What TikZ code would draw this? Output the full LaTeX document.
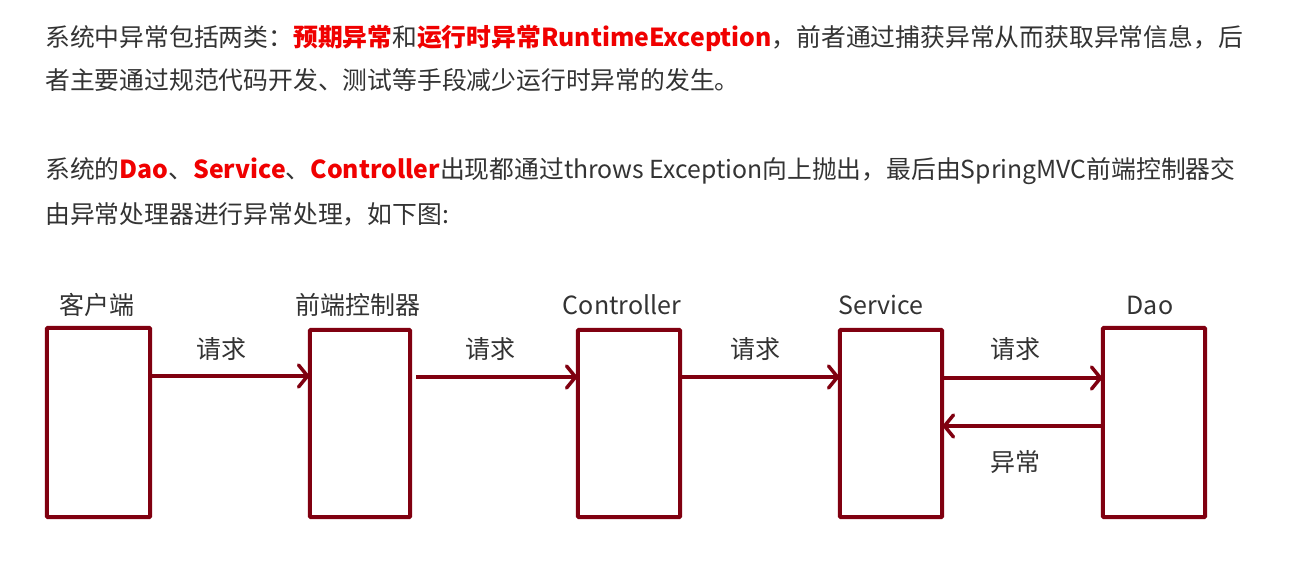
\documentclass[tikz,border=0pt]{standalone}
\usepackage{fontspec}
\setmainfont{Noto Sans CJK SC}
\usetikzlibrary{arrows.meta}
\definecolor{boxred}{RGB}{128,0,16}
\definecolor{txtgray}{RGB}{51,51,51}
\definecolor{hlred}{RGB}{240,0,0}
\begin{document}
\begin{tikzpicture}[x=1pt,y=-1pt,
  para/.style={anchor=west,inner sep=0pt,text=txtgray,font=\fontsize{24.8}{30}\selectfont},
  blk/.style={draw=boxred,line width=4pt,rounded corners=1pt},
  lbl/.style={inner sep=0pt,text=txtgray,font=\fontsize{25}{30}\selectfont},
  conn/.style={draw=boxred,line width=3.5pt,-{Straight Barb[length=9pt,width=22pt,line width=3.5pt,line cap=round]}}]
\useasboundingbox (0,0) rectangle (1299,581);
\fill[white] (0,0) rectangle (1299,581);
\newcommand{\hl}[1]{\textcolor{hlred}{\bfseries #1}}
% paragraphs
\node[para] (p1) at (45,38) {系统中异常包括两类：\hl{预期异常}和\hl{运行时异常RuntimeException}，前者通过捕获异常从而获取异常信息，后};
\node[para] (p2) at (45,80) {者主要通过规范代码开发、测试等手段减少运行时异常的发生。};
\node[para] (p3) at (45,171) {系统的\hl{Dao}、\hl{Service}、\hl{Controller}出现都通过throws Exception向上抛出，最后由SpringMVC前端控制器交};
\node[para] (p4) at (45,214) {由异常处理器进行异常处理，如下图:};
% boxes
\node[inner sep=0pt,minimum width=103pt,minimum height=189pt] (client) at (98.5,422.5) {};
\node[inner sep=0pt,minimum width=100pt,minimum height=187pt] (front) at (360,423.5) {};
\node[inner sep=0pt,minimum width=102pt,minimum height=187pt] (ctrl) at (629,423.5) {};
\node[inner sep=0pt,minimum width=102pt,minimum height=187pt] (svc) at (891,423.5) {};
\node[inner sep=0pt,minimum width=102pt,minimum height=189pt] (dao) at (1154,422.5) {};
\draw[blk] (client.north west) rectangle (client.south east);
\draw[blk] (front.north west) rectangle (front.south east);
\draw[blk] (ctrl.north west) rectangle (ctrl.south east);
\draw[blk] (svc.north west) rectangle (svc.south east);
\draw[blk] (dao.north west) rectangle (dao.south east);
% titles
\node[lbl] (t1) at (97,305) {客户端};
\node[lbl] (t2) at (358,305) {前端控制器};
\node[lbl] (t3) at (622,305) {Controller};
\node[lbl] (t4) at (881,305) {Service};
\node[lbl] (t5) at (1150,305) {Dao};
% connectors
\draw[conn] (client.east |- 0,376) -- (front.west |- 0,376);
\coordinate (c2s) at (416,377);
\draw[conn] (c2s) -- (ctrl.west |- c2s);
\draw[conn] (ctrl.east |- 0,377) -- (svc.west |- 0,377);
\draw[conn] (svc.east |- 0,378) -- (dao.west |- 0,378);
\draw[conn] (dao.west |- 0,426) -- (svc.east |- 0,426);
% connector labels
\node[lbl] (r1) at (221,349) {请求};
\node[lbl] (r2) at (490,349) {请求};
\node[lbl] (r3) at (755,349) {请求};
\node[lbl] (r4) at (1015,349) {请求};
\node[lbl] (e1) at (1015,462) {异常};
\end{tikzpicture}
\end{document}
